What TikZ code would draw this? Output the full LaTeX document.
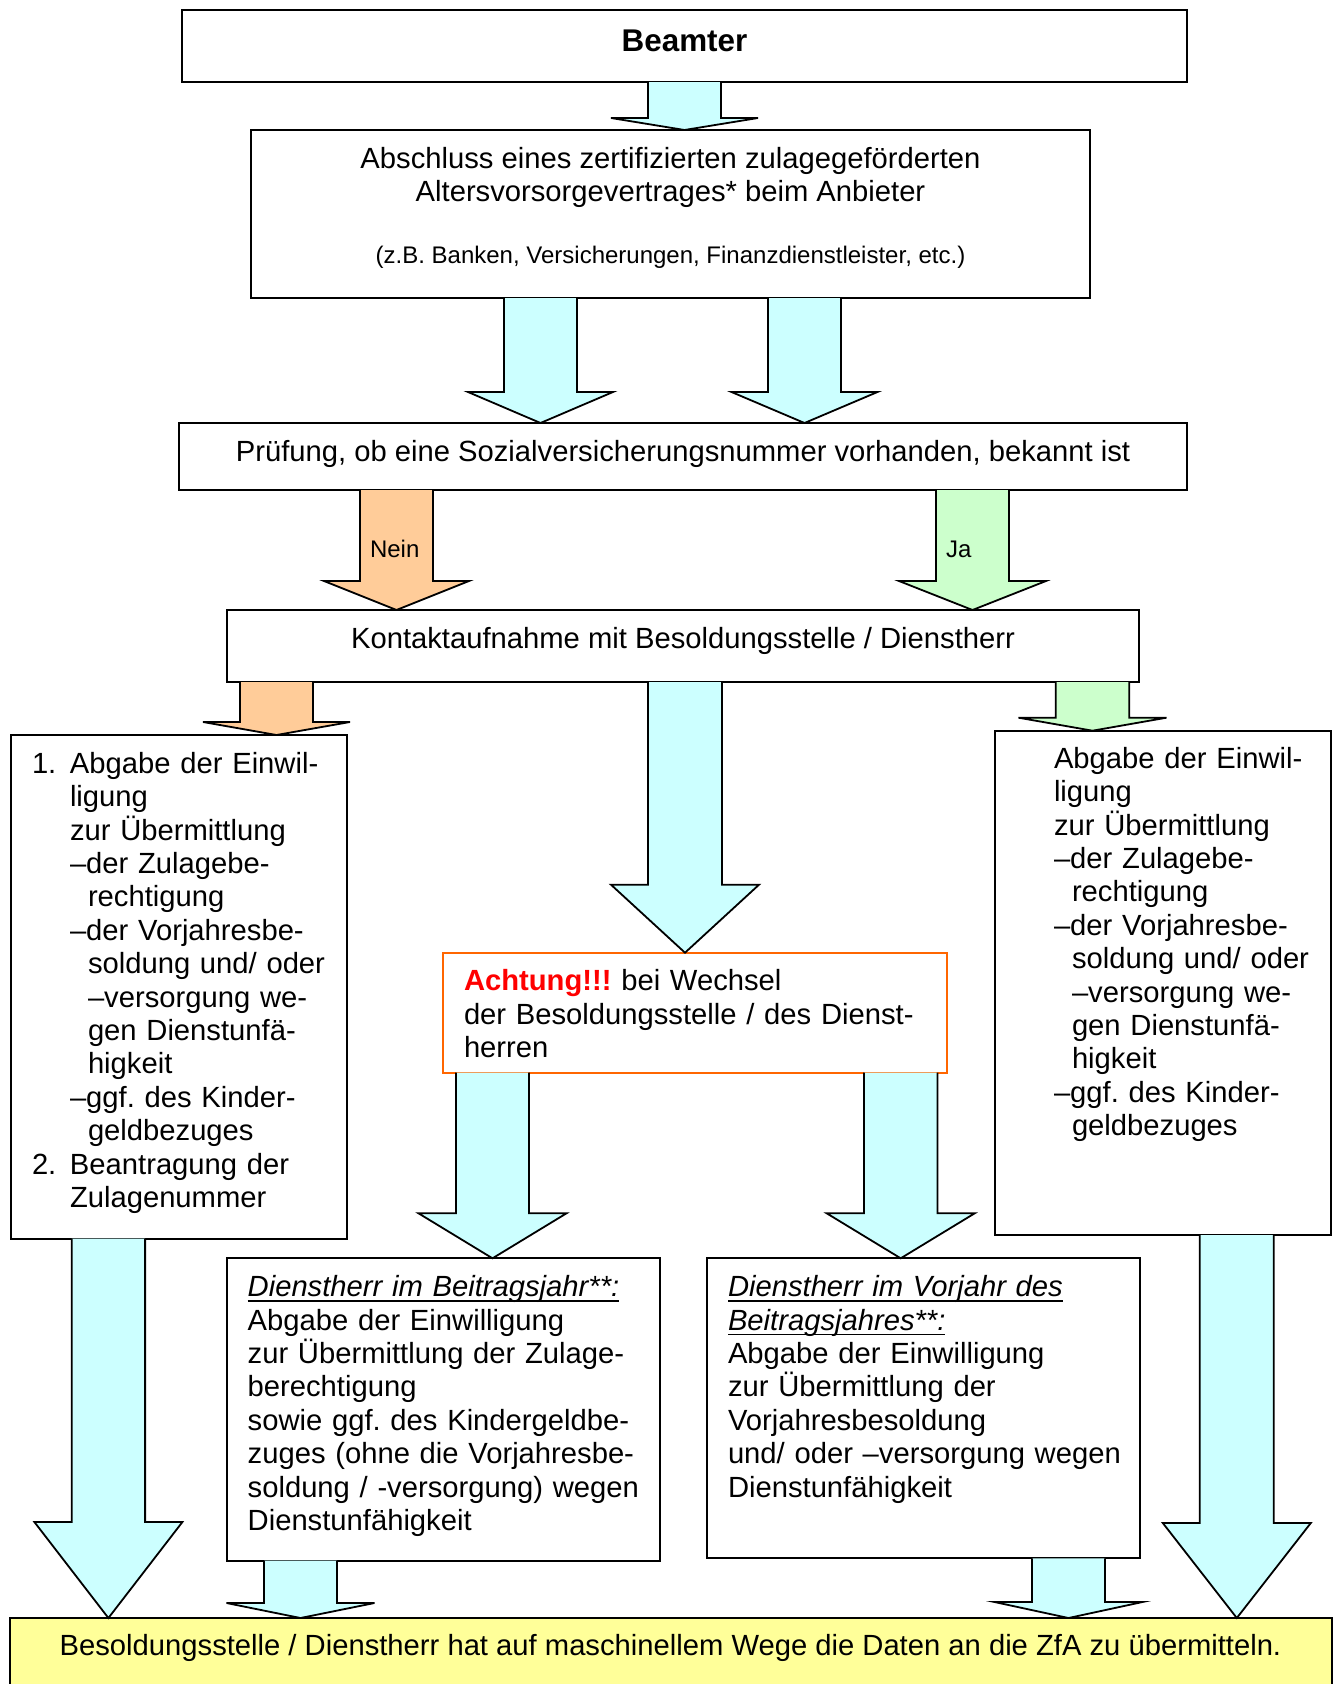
\documentclass[tikz,border=0pt]{standalone}
\usepackage{fontspec}
\setmainfont{Liberation Sans}
\usetikzlibrary{calc}
\frenchspacing
\definecolor{arrcyan}{HTML}{CCFFFF}
\definecolor{arrorange}{HTML}{FFCC99}
\definecolor{arrgreen}{HTML}{CCFFCC}
\definecolor{boxyellow}{HTML}{FFFF99}
\definecolor{achtborder}{HTML}{FF6600}
\definecolor{achtred}{HTML}{FF0000}
\newcommand\fsmain{\fontsize{29.2}{33.4}\selectfont}
\newcommand\fssmall{\fontsize{24}{28}\selectfont}
\newcommand\fsbig{\fontsize{31.4}{36}\selectfont}
\newcommand\myul[1]{\leavevmode\setbox0=\hbox{\itshape #1}\rlap{\rule[-5.3pt]{\wd0}{1.8pt}}\box0}
% #1 fill, #2 source node, #3 target node, #4 centre x, #5 half shaft, #6 half head, #7 head length
\newcommand\blockarr[7]{%
  \draw[arrline, fill=#1] let \p1=(#2.south), \p2=(#3.north) in
    (#4pt-#5pt,\y1) -- (#4pt-#5pt,\y2+#7pt) -- (#4pt-#6pt,\y2+#7pt) -- (#4pt,\y2)
    -- (#4pt+#6pt,\y2+#7pt) -- (#4pt+#5pt,\y2+#7pt) -- (#4pt+#5pt,\y1);}
\begin{document}
\frenchspacing
\begin{tikzpicture}[x=1pt,y=-1pt,
  box/.style={draw=black, line width=2pt, inner sep=0pt, outer sep=0pt, anchor=north west},
  txt/.style={inner sep=0pt, outer sep=0pt, font=\fsmain},
  mtxt/.style={inner sep=0pt, outer sep=0pt, font=\fsmain, anchor=base west, text width=#1pt, align=left},
  arrline/.style={draw=black, line width=1.8pt, line join=miter}]
\useasboundingbox (0,0) rectangle (1338,1684);

% boxes
\node[box, minimum width=1005pt, minimum height=72pt] (beamter) at (182,10) {};
\node[box, minimum width=839pt, minimum height=168pt] (abschluss) at (251,130) {};
\node[box, minimum width=1008pt, minimum height=67pt] (pruefung) at (179,423) {};
\node[box, minimum width=912pt, minimum height=72pt] (kontakt) at (227,610) {};
\node[box, minimum width=336pt, minimum height=503.5pt] (leftbox) at (10.7,735) {};
\node[box, minimum width=336pt, minimum height=504.3pt] (rightbox) at (995,730.7) {};
\node[box, draw=achtborder, minimum width=504.5pt, minimum height=120pt] (achtung) at (442.5,952.7) {};
\node[box, minimum width=433.3pt, minimum height=302.4pt] (beitrag) at (226.7,1258.3) {};
\node[box, minimum width=433.5pt, minimum height=300pt] (vorjahr) at (706.5,1258.3) {};
\node[box, fill=boxyellow, minimum width=1321.5pt, minimum height=80pt] (bottom) at (10,1618) {};

% block arrows
\blockarr{arrcyan}{beamter}{abschluss}{684.5}{36.5}{73.5}{12}
\blockarr{arrcyan}{abschluss}{pruefung}{540.5}{36.5}{72.5}{31}
\blockarr{arrcyan}{abschluss}{pruefung}{804.5}{36.5}{73}{31}
\blockarr{arrorange}{pruefung}{kontakt}{396.5}{36.5}{72.5}{29}
\blockarr{arrgreen}{pruefung}{kontakt}{972.5}{36.5}{73.5}{29}
\blockarr{arrorange}{kontakt}{leftbox}{276.5}{36.5}{73.5}{13}
\blockarr{arrgreen}{kontakt}{rightbox}{1092.5}{36.8}{74}{13}
\blockarr{arrcyan}{kontakt}{achtung}{685}{37}{74}{68}
\blockarr{arrcyan}{achtung}{beitrag}{492.5}{36.5}{74}{45}
\blockarr{arrcyan}{achtung}{vorjahr}{900.7}{36.7}{74}{45}
\blockarr{arrcyan}{leftbox}{bottom}{108.4}{36.7}{74}{96}
\blockarr{arrcyan}{rightbox}{bottom}{1236.8}{37}{74}{95}
\blockarr{arrcyan}{beitrag}{bottom}{300.5}{36.5}{74}{15}
\blockarr{arrcyan}{vorjahr}{bottom}{1068.5}{36.5}{74}{16}

% texts
\node[txt, font=\fsbig, anchor=base] (tbeamter) at (684.5,51.7) {\bfseries Beamter};
\node[txt, anchor=base] (tabs1) at (670.5,168.3) {Abschluss eines zertifizierten zulagegeförderten};
\node[txt, anchor=base] (tabs2) at (670.5,201) {Altersvorsorgevertrages* beim Anbieter};
\node[txt, font=\fssmall, anchor=base] (tabs3) at (670.5,263.3) {(z.B. Banken, Versicherungen, Finanzdienstleister, etc.)};
\node[txt, anchor=base] (tpruef) at (683,461) {Prüfung, ob eine Sozialversicherungsnummer vorhanden, bekannt ist};
\node[txt, font=\fssmall, anchor=base west] (tnein) at (370,557) {Nein};
\node[txt, font=\fssmall, anchor=base west] (tja) at (946,557) {Ja};
\node[txt, anchor=base] (tkontakt) at (683,648.5) {Kontaktaufnahme mit Besoldungsstelle / Dienstherr};

\node[mtxt=300] (tleft) at (70,773.3) {\leavevmode\llap{\makebox[38pt][l]{1.}}Abgabe der Einwil-\\ligung\\zur Übermittlung\\–der Zulagebe-\\\hspace*{18pt}rechtigung\\–der Vorjahresbe-\\\hspace*{18pt}soldung und/ oder\\\hspace*{18pt}–versorgung we-\\\hspace*{18pt}gen Dienstunfä-\\\hspace*{18pt}higkeit\\–ggf. des Kinder-\\\hspace*{18pt}geldbezuges\\\leavevmode\llap{\makebox[38pt][l]{2.}}Beantragung der\\Zulagenummer};

\node[mtxt=300] (tright) at (1054,768.3) {Abgabe der Einwil-\\ligung\\zur Übermittlung\\–der Zulagebe-\\\hspace*{18pt}rechtigung\\–der Vorjahresbe-\\\hspace*{18pt}soldung und/ oder\\\hspace*{18pt}–versorgung we-\\\hspace*{18pt}gen Dienstunfä-\\\hspace*{18pt}higkeit\\–ggf. des Kinder-\\\hspace*{18pt}geldbezuges};

\node[mtxt=480] (tachtung) at (464,990.7) {{\color{achtred}\bfseries Achtung!!!} bei Wechsel\\der Besoldungsstelle / des Dienst-\\herren};

\node[mtxt=420] (tbeitrag) at (247.7,1296.7) {\myul{Dienstherr im Beitragsjahr**:}\\Abgabe der Einwilligung\\zur Übermittlung der Zulage-\\berechtigung\\sowie ggf. des Kindergeldbe-\\zuges (ohne die Vorjahresbe-\\soldung / -versorgung) wegen\\Dienstunfähigkeit};

\node[mtxt=420] (tvorjahr) at (728,1296.7) {\myul{Dienstherr im Vorjahr des}\\\myul{Beitragsjahres**:}\\Abgabe der Einwilligung\\zur Übermittlung der\\Vorjahresbesoldung\\und/ oder –versorgung wegen\\Dienstunfähigkeit};

\node[txt, anchor=base] (tbottom) at (670.5,1655) {Besoldungsstelle / Dienstherr hat auf maschinellem Wege die Daten an die ZfA zu übermitteln.};
\end{tikzpicture}
\end{document}
